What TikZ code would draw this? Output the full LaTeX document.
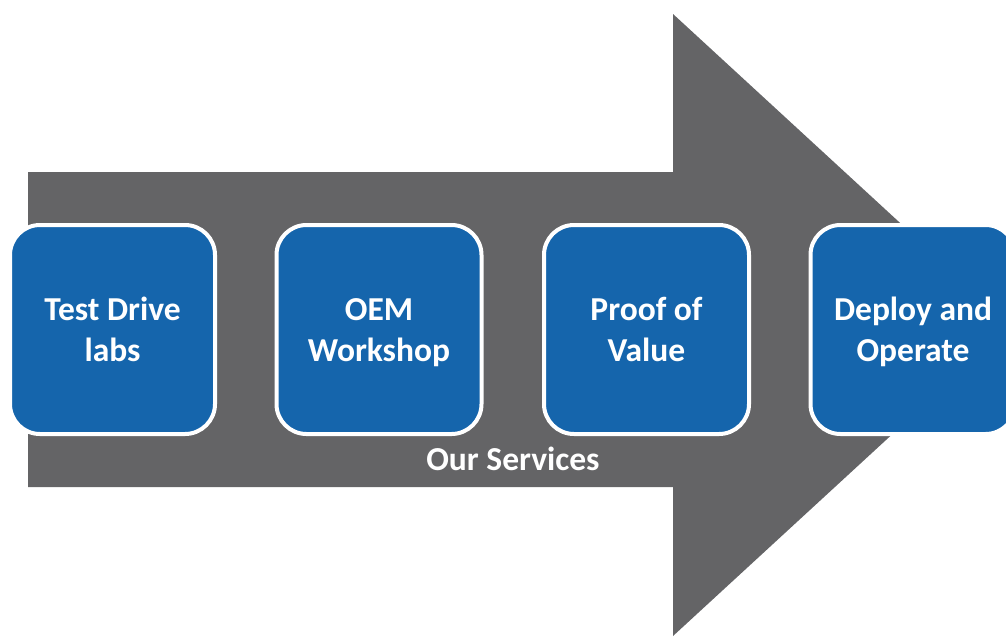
\documentclass[tikz,border=0pt]{standalone}
\usepackage{fontspec}
\setmainfont{Carlito}
\definecolor{arrowgrey}{RGB}{100,100,102}
\definecolor{boxblue}{RGB}{21,101,172}
\newcommand\linestrut{\rule[-8pt]{0pt}{38pt}}
\begin{document}
\begin{tikzpicture}[x=1pt,y=-1pt,
  stagebox/.style={draw=white, line width=4pt, fill=boxblue, rounded corners=30pt,
    minimum width=205pt, minimum height=209pt, inner sep=0pt,
    text=white, font=\fontsize{33.5}{41}\selectfont\bfseries, align=center},
  caption/.style={text=white, font=\fontsize{33.5}{40}\selectfont\bfseries, inner sep=0pt}]
\useasboundingbox (0,0) rectangle (1006,638);
\clip (0,0) rectangle (1006,638);
\fill[arrowgrey] (28,172) -- (673,172) -- (673,14) -- (1011,325) -- (673,636) -- (673,487) -- (28,487) -- cycle;
\node[stagebox] (s1) at (112.5,329.5) {Test Drive\linestrut\\labs\linestrut};
\node[stagebox] (s2) at (379,329.5) {OEM\linestrut\\Workshop\linestrut};
\node[stagebox] (s3) at (646.5,329.5) {Proof of\linestrut\\Value\linestrut};
\node[stagebox] (s4) at (913,329.5) {Deploy and\linestrut\\Operate\linestrut};
\node[caption, anchor=base] (cap) at (513,470) {Our Services};
\end{tikzpicture}
\end{document}
